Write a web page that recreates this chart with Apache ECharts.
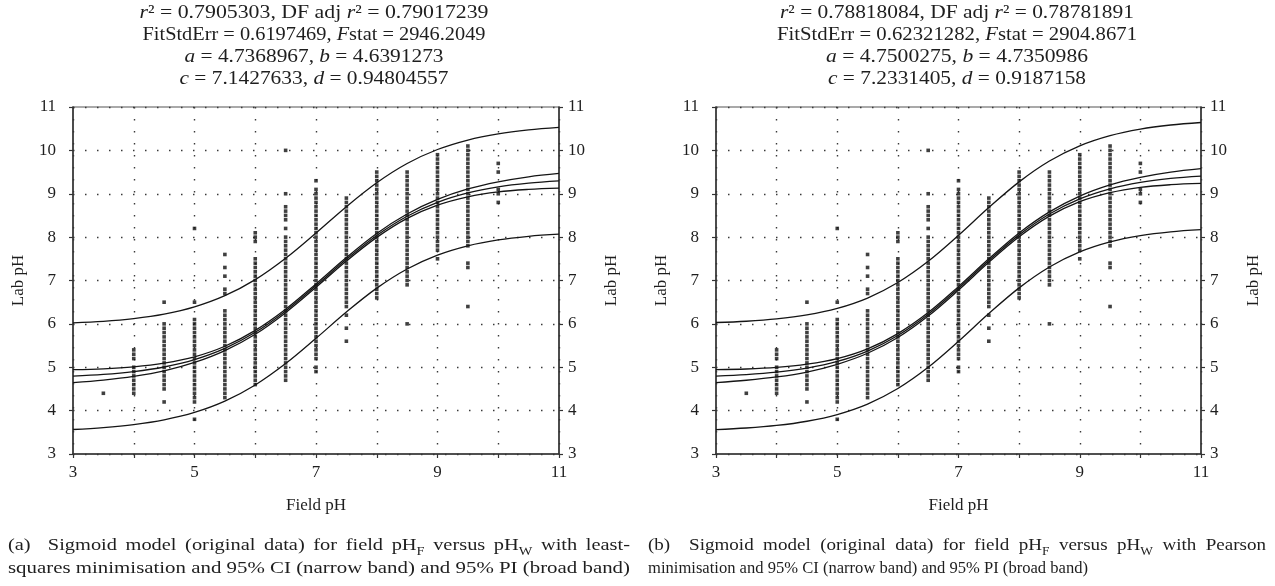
<!DOCTYPE html>
<html>
<head>
<meta charset="utf-8">
<script src="https://cdn.jsdelivr.net/npm/echarts@6/dist/echarts.min.js"></script>
<style>
  html, body { margin: 0; padding: 0; background: #fff; }
  #chart { width: 1275px; height: 586px; }
</style>
</head>
<body>
<div id="chart"></div>
<script>
// Field pH (x) at which the lab pH samples were taken
const fieldPh = [3.5, 4, 4.5, 5, 5.5, 6, 6.5, 7, 7.5, 8, 8.5, 9, 9.5, 10];
// Lab pH readings for each field pH column
const labPh = [
  [4.4],
  [4.4, 4.5, 4.6, 4.7, 4.8, 4.9, 5.0, 5.2, 5.3, 5.4],
  [4.2, 4.5, 4.6, 4.7, 4.8, 4.9, 5.0, 5.1, 5.2, 5.3, 5.4, 5.5, 5.6, 5.7, 5.8, 5.9, 6.0, 6.5],
  [3.8, 4.2, 4.3, 4.4, 4.5, 4.6, 4.7, 4.8, 4.9, 5.0, 5.1, 5.2, 5.3, 5.4, 5.5, 5.6, 5.7, 5.8, 5.9, 6.0, 6.1, 6.5, 8.2],
  [4.3, 4.4, 4.5, 4.6, 4.7, 4.8, 4.9, 5.0, 5.1, 5.2, 5.3, 5.4, 5.5, 5.6, 5.7, 5.8, 5.9, 6.0, 6.1, 6.2, 6.3, 6.7, 6.8, 7.1, 7.3, 7.6],
  [4.6, 4.7, 4.8, 4.9, 5.0, 5.1, 5.2, 5.3, 5.4, 5.5, 5.6, 5.7, 5.8, 5.9, 6.0, 6.1, 6.2, 6.3, 6.4, 6.5, 6.6, 6.7, 6.8, 6.9, 7.0, 7.1, 7.2, 7.3, 7.4, 7.5, 7.9, 8.0, 8.1],
  [4.7, 4.8, 4.9, 5.0, 5.1, 5.2, 5.3, 5.4, 5.5, 5.6, 5.7, 5.8, 5.9, 6.0, 6.1, 6.2, 6.3, 6.4, 6.5, 6.6, 6.7, 6.8, 6.9, 7.0, 7.1, 7.2, 7.3, 7.4, 7.5, 7.6, 7.7, 7.8, 7.9, 8.0, 8.2, 8.4, 8.5, 8.6, 8.7, 9.0, 10.0],
  [4.9, 5.0, 5.2, 5.3, 5.4, 5.5, 5.6, 5.7, 5.8, 5.9, 6.0, 6.1, 6.2, 6.3, 6.4, 6.5, 6.6, 6.7, 6.8, 6.9, 7.0, 7.1, 7.2, 7.3, 7.4, 7.5, 7.6, 7.7, 7.8, 7.9, 8.0, 8.1, 8.2, 8.3, 8.4, 8.5, 8.6, 8.7, 8.8, 8.9, 9.0, 9.1, 9.3],
  [5.6, 5.9, 6.2, 6.4, 6.5, 6.6, 6.7, 6.8, 6.9, 7.0, 7.1, 7.2, 7.3, 7.4, 7.5, 7.6, 7.7, 7.8, 7.9, 8.0, 8.1, 8.2, 8.3, 8.4, 8.5, 8.6, 8.7, 8.8, 8.9],
  [6.6, 6.7, 6.8, 6.9, 7.0, 7.1, 7.2, 7.3, 7.4, 7.5, 7.6, 7.7, 7.8, 7.9, 8.0, 8.1, 8.2, 8.3, 8.4, 8.5, 8.6, 8.7, 8.8, 8.9, 9.0, 9.1, 9.2, 9.3, 9.4, 9.5],
  [6.0, 6.9, 7.0, 7.1, 7.2, 7.3, 7.4, 7.5, 7.6, 7.7, 7.8, 7.9, 8.0, 8.1, 8.2, 8.3, 8.4, 8.5, 8.6, 8.7, 8.8, 8.9, 9.0, 9.1, 9.2, 9.3, 9.4, 9.5],
  [7.5, 7.7, 7.8, 7.9, 8.0, 8.1, 8.2, 8.3, 8.4, 8.5, 8.6, 8.7, 8.8, 8.9, 9.0, 9.1, 9.2, 9.3, 9.4, 9.5, 9.6, 9.7, 9.8, 9.9],
  [6.4, 7.3, 7.4, 7.8, 7.9, 8.0, 8.1, 8.2, 8.3, 8.4, 8.5, 8.6, 8.7, 8.8, 8.9, 9.0, 9.1, 9.2, 9.3, 9.4, 9.5, 9.6, 9.7, 9.8, 9.9, 10.0, 10.1],
  [8.8, 9.0, 9.1, 9.5, 9.7]
];

// Curve sample positions (field pH)
const curveX = [3, 3.5, 4, 4.5, 5, 5.5, 6, 6.5, 7, 7.5, 8, 8.5, 9, 9.5, 10, 10.5, 11];

// (a) least-squares sigmoid fit with 95% CI and 95% PI bands
const fitA   = [4.795, 4.834, 4.900, 5.006, 5.175, 5.434, 5.806, 6.299, 6.882, 7.488, 8.039, 8.482, 8.803, 9.020, 9.159, 9.245, 9.298];
const ciUpA  = [4.945, 4.964, 5.010, 5.096, 5.240, 5.484, 5.851, 6.339, 6.922, 7.528, 8.084, 8.532, 8.868, 9.110, 9.274, 9.390, 9.468];
const ciLoA  = [4.645, 4.704, 4.790, 4.916, 5.110, 5.384, 5.761, 6.259, 6.842, 7.448, 7.994, 8.432, 8.738, 8.930, 9.044, 9.100, 9.128];
const piUpA  = [6.025, 6.059, 6.122, 6.225, 6.392, 6.650, 7.021, 7.514, 8.097, 8.703, 9.254, 9.698, 10.020, 10.239, 10.381, 10.471, 10.528];
const piLoA  = [3.565, 3.609, 3.678, 3.787, 3.958, 4.218, 4.591, 5.084, 5.667, 6.273, 6.824, 7.266, 7.586, 7.801, 7.937, 8.019, 8.068];

// (b) Pearson sigmoid fit with 95% CI and 95% PI bands
const fitB   = [4.797, 4.830, 4.886, 4.980, 5.133, 5.373, 5.731, 6.220, 6.819, 7.459, 8.052, 8.533, 8.882, 9.115, 9.263, 9.354, 9.408];
const ciUpB  = [4.947, 4.960, 4.996, 5.070, 5.198, 5.423, 5.776, 6.260, 6.859, 7.499, 8.097, 8.583, 8.947, 9.205, 9.378, 9.499, 9.578];
const ciLoB  = [4.647, 4.700, 4.776, 4.890, 5.068, 5.323, 5.686, 6.180, 6.779, 7.419, 8.007, 8.483, 8.817, 9.025, 9.148, 9.209, 9.238];
const piUpB  = [6.032, 6.061, 6.114, 6.205, 6.356, 6.595, 6.953, 7.442, 8.041, 8.681, 9.274, 9.755, 10.105, 10.340, 10.491, 10.585, 10.643];
const piLoB  = [3.562, 3.599, 3.658, 3.755, 3.910, 4.151, 4.509, 4.998, 5.597, 6.237, 6.830, 7.311, 7.659, 7.890, 8.035, 8.123, 8.173];

// Y tick values
const yTicks = [3, 4, 5, 6, 7, 8, 9, 10, 11];

const statsA = [
  '{i|r}² = 0.7905303, DF adj {i|r}² = 0.79017239',
  'FitStdErr = 0.6197469, {i|F}stat = 2946.2049',
  '{i|a} = 4.7368967, {i|b} = 4.6391273',
  '{i|c} = 7.1427633, {i|d} = 0.94804557'
];
const statsB = [
  '{i|r}² = 0.78818084, DF adj {i|r}² = 0.78781891',
  'FitStdErr = 0.62321282, {i|F}stat = 2904.8671',
  '{i|a} = 4.7500275, {i|b} = 4.7350986',
  '{i|c} = 7.2331405, {i|d} = 0.9187158'
];
const captionA = [
  '(a)  Sigmoid model (original data) for field pH{sub|F} versus pH{sub|W} with least-',
  'squares minimisation and 95% CI (narrow band) and 95% PI (broad band)'
];
const captionB = [
  '(b)  Sigmoid model (original data) for field pH{sub|F} versus pH{sub|W} with Pearson',
  'minimisation and 95% CI (narrow band) and 95% PI (broad band)'
];

const SERIF = '"Liberation Serif", "DejaVu Serif", serif';
const INK = '#1e1e1e';
const TITLE_SIZE = 19;
const CAPTION_SIZE = 17;
const SUB_SIZE = 12;

const scatterData = fieldPh.flatMap((x, i) => labPh[i].map(y => [x, y]));
const pairs = arr => curveX.map((x, i) => [x, arr[i]]);

const grids = [
  { left: 73, top: 107, width: 486, height: 347 },
  { left: 716, top: 107, width: 485, height: 347 }
];

function xAxisFor(g) {
  return {
    gridIndex: g, type: 'value', min: 3, max: 11, interval: 1,
    name: 'Field pH', nameLocation: 'middle', nameGap: 43,
    nameTextStyle: { fontFamily: SERIF, fontSize: 17, color: INK },
    axisLine: { lineStyle: { color: '#333', width: 1.5 } },
    axisTick: { length: 4, lineStyle: { color: '#333', width: 1.2 } },
    axisLabel: {
      margin: 10, fontFamily: SERIF, fontSize: 17, color: INK,
      formatter: v => (v % 2 === 1 ? String(v) : '')
    },
    splitLine: { show: true, lineStyle: { type: [1.5, 10.5], color: '#3a3a3a', width: 1.4 } }
  };
}

function yAxisFor(g, side) {
  return {
    gridIndex: g, type: 'value', position: side, min: yTicks[0], max: yTicks[yTicks.length - 1], interval: 1,
    name: 'Lab pH', nameLocation: 'middle', nameRotate: 90, nameGap: side === 'left' ? 46 : 44,
    nameTextStyle: { fontFamily: SERIF, fontSize: 17, color: INK },
    axisLine: { show: true, lineStyle: { color: '#333', width: 1.5 } },
    axisTick: { show: true, length: 4, lineStyle: { color: '#333', width: 1.2 } },
    axisLabel: { margin: side === 'left' ? 17 : 9, fontFamily: SERIF, fontSize: 17, color: INK },
    splitLine: { show: side === 'left', lineStyle: { type: [1.5, 10.5], color: '#3a3a3a', width: 1.4 } }
  };
}

function curve(g, arr) {
  return {
    type: 'line', xAxisIndex: g, yAxisIndex: g * 2, data: pairs(arr),
    smooth: 0.35, showSymbol: false, silent: true,
    lineStyle: { color: '#151515', width: 1.3 }
  };
}

function scatter(g) {
  return {
    type: 'scatter', xAxisIndex: g, yAxisIndex: g * 2, data: scatterData,
    symbol: 'rect', symbolSize: 3.6, silent: true,
    itemStyle: { color: '#101010' }
  };
}

// Text width measurement, token by token
const measureCtx = document.createElement('canvas').getContext('2d');
function fontOf(token, base) {
  if (token === 'i') return 'italic ' + base + 'px ' + SERIF;
  if (token === 'sub') return SUB_SIZE + 'px ' + SERIF;
  return base + 'px ' + SERIF;
}
function naturalWidth(text, base) {
  let w = 0;
  const re = /\{(\w+)\|([^}]*)\}|([^{]+)/g;
  let m;
  while ((m = re.exec(text))) {
    measureCtx.font = fontOf(m[1] || '', base);
    w += measureCtx.measureText(m[1] ? m[2] : m[3]).width;
  }
  return w;
}

const richTitle = {
  i: { fontFamily: SERIF, fontSize: TITLE_SIZE, fontStyle: 'italic', fill: INK }
};
const richCaption = {
  sub: { fontFamily: SERIF, fontSize: SUB_SIZE, fill: INK, verticalAlign: 'bottom', lineHeight: 24 }
};

// One line of text, widened or narrowed to a given width
function textLine(x, y, text, align, size, rich, width) {
  const sx = width ? width / naturalWidth(text, size) : 1;
  return {
    type: 'text', x: x, y: y, scaleX: sx, silent: true,
    style: {
      text: text, fontFamily: SERIF, fontSize: size, fill: INK,
      align: align, verticalAlign: 'middle', rich: rich
    }
  };
}

// One line set flush on both sides: glyphs widened by sx, the rest taken up by word gaps
function justifiedLine(x, y, text, size, rich, width, sx) {
  const words = text.split(' ');
  const widths = words.map(w => naturalWidth(w, size) * sx);
  const gap = (width - widths.reduce((s, w) => s + w, 0)) / (words.length - 1);
  const out = [];
  let cx = x;
  words.forEach((w, k) => {
    if (w) {
      out.push({
        type: 'text', x: cx, y: y, scaleX: sx, silent: true,
        style: { text: w, fontFamily: SERIF, fontSize: size, fill: INK, align: 'left', verticalAlign: 'middle', rich: rich }
      });
    }
    cx += widths[k] + gap;
  });
  return out;
}

const titleYs = [13, 35, 57, 79];
const titleWidthsA = [349, 343, 259, 269];
const titleWidthsB = [354, 360, 262, 258];

const graphics = [];
statsA.forEach((t, i) => graphics.push(textLine(314, titleYs[i], t, 'center', TITLE_SIZE, richTitle, titleWidthsA[i])));
statsB.forEach((t, i) => graphics.push(textLine(957, titleYs[i], t, 'center', TITLE_SIZE, richTitle, titleWidthsB[i])));
graphics.push(...justifiedLine(8, 546, captionA[0], CAPTION_SIZE, richCaption, 622, 1.2));
graphics.push(textLine(8, 569, captionA[1], 'left', CAPTION_SIZE, richCaption, 622));
graphics.push(...justifiedLine(648, 546, captionB[0], CAPTION_SIZE, richCaption, 618, 1.12));
graphics.push(textLine(648, 569, captionB[1], 'left', CAPTION_SIZE, richCaption, 440));

const chart = echarts.init(document.getElementById('chart'), null, { renderer: 'canvas' });
chart.setOption({
  animation: false,
  backgroundColor: '#fff',
  grid: grids.map(g => Object.assign({ show: true, borderColor: '#555', borderWidth: 1.2, backgroundColor: 'transparent' }, g)),
  xAxis: [xAxisFor(0), xAxisFor(1)],
  yAxis: [yAxisFor(0, 'left'), yAxisFor(0, 'right'), yAxisFor(1, 'left'), yAxisFor(1, 'right')],
  series: [
    scatter(0),
    curve(0, piUpA), curve(0, ciUpA), curve(0, fitA), curve(0, ciLoA), curve(0, piLoA),
    scatter(1),
    curve(1, piUpB), curve(1, ciUpB), curve(1, fitB), curve(1, ciLoB), curve(1, piLoB)
  ],
  graphic: graphics
});
</script>
</body>
</html>
